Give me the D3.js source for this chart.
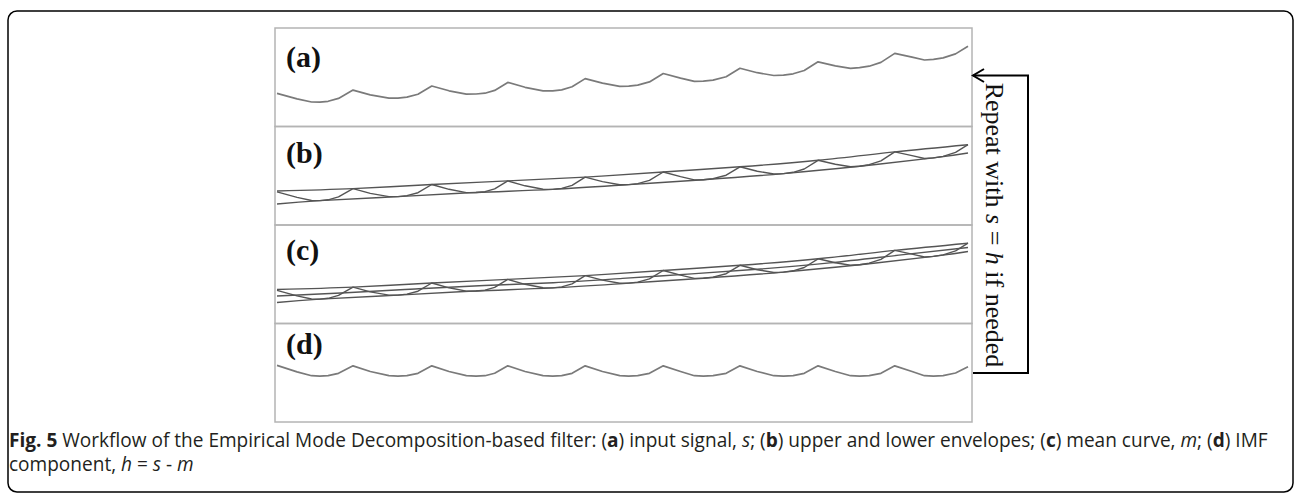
<!DOCTYPE html>
<html>
<head>
<meta charset="utf-8">
<script src="https://cdn.jsdelivr.net/npm/d3@7"></script>
<style>
  body { margin: 0; background: #fff; }
  svg { display: block; }
</style>
</head>
<body>
<script>
// panel ids, top to bottom
const panels = ['a', 'b', 'c', 'd'];

// input signal s: [time, amplitude]
const signalS = [
  [0.00, 33.1], [0.29, 27.6], [0.50, 24.5], [0.62, 24.4], [0.74, 25.2], [0.89, 28.1], [1.10, 36.4],
  [1.35, 31.6], [1.62, 28.4], [1.75, 28.4], [1.88, 29.4], [2.04, 32.3], [2.24, 40.5],
  [2.49, 35.7], [2.74, 32.4], [2.88, 32.5], [3.01, 33.3], [3.15, 36.1], [3.34, 44.1],
  [3.59, 39.2], [3.85, 35.7], [3.99, 35.6], [4.12, 36.6], [4.27, 39.7], [4.46, 47.9],
  [4.71, 43.4], [4.96, 40.2], [5.09, 40.4], [5.22, 41.4], [5.39, 44.6], [5.59, 53.0],
  [5.84, 48.4], [6.04, 45.1], [6.17, 45.3], [6.31, 46.4], [6.50, 49.8], [6.70, 58.2],
  [6.95, 53.8], [7.19, 51.0], [7.33, 51.4], [7.47, 52.7], [7.63, 56.0], [7.83, 64.7],
  [8.08, 60.7], [8.30, 58.2], [8.43, 58.8], [8.57, 60.3], [8.74, 64.1], [8.94, 73.1],
  [9.19, 69.4], [9.37, 66.5], [9.50, 67.1], [9.64, 68.6], [9.82, 72.6], [10.00, 80.3]
];

// upper envelope (through the maxima of s)
const upperEnv = [
  [0, 34.0], [1.10, 36.4], [2.24, 40.5], [3.34, 44.1], [4.46, 47.9],
  [5.59, 53.0], [6.70, 58.2], [7.83, 64.7], [8.94, 73.1], [10, 80.3]
];

// lower envelope (through the minima of s)
const lowerEnv = [
  [0, 21.0], [0.62, 24.4], [1.75, 28.4], [2.88, 32.5], [3.99, 35.6], [5.09, 40.4],
  [6.17, 45.3], [7.33, 51.4], [8.43, 58.8], [9.50, 67.1], [10, 72.0]
];

// mean curve m
const meanCurve = [
  [0, 27.5], [1, 30.8], [2, 34.5], [3, 38.0], [4, 40.8], [5, 45.1],
  [6, 49.6], [7, 54.5], [8, 60.6], [9, 68.4], [10, 76.0]
];

// IMF component h
const imfH = [
  [0.00, 5.6], [0.29, -0.9], [0.50, -4.7], [0.62, -5.15], [0.74, -4.7], [0.89, -2.3], [1.10, 5.15],
  [1.35, -0.5], [1.62, -4.7], [1.75, -5.15], [1.88, -4.7], [2.04, -2.3], [2.24, 5.15],
  [2.49, -0.5], [2.74, -4.7], [2.88, -5.15], [3.01, -4.7], [3.15, -2.3], [3.34, 5.15],
  [3.59, -0.5], [3.85, -4.7], [3.99, -5.15], [4.12, -4.7], [4.27, -2.3], [4.46, 5.15],
  [4.71, -0.5], [4.96, -4.7], [5.09, -5.15], [5.22, -4.7], [5.39, -2.3], [5.59, 5.15],
  [5.84, -0.5], [6.04, -4.7], [6.17, -5.15], [6.31, -4.7], [6.50, -2.3], [6.70, 5.15],
  [6.95, -0.5], [7.19, -4.7], [7.33, -5.15], [7.47, -4.7], [7.63, -2.3], [7.83, 5.15],
  [8.08, -0.5], [8.30, -4.7], [8.43, -5.15], [8.57, -4.7], [8.74, -2.3], [8.94, 5.15],
  [9.19, -0.5], [9.37, -4.7], [9.50, -5.15], [9.64, -4.7], [9.82, -2.0], [10.00, 4.2]
];

// what is drawn in each panel
const panelSeries = {
  a: [signalS],
  b: [signalS, upperEnv, lowerEnv],
  c: [signalS, upperEnv, lowerEnv, meanCurve],
  d: [imfH]
};

const sideNote = [['Repeat with ', null], ['s', 'i'], [' = ', null], ['h', 'i'], [' if needed', null]];

const caption1 = [
  ['Fig. 5', 'b'], [' Workflow of the Empirical Mode Decomposition-based filter: (', null],
  ['a', 'b'], [') input signal, ', null], ['s', 'i'], ['; (', null], ['b', 'b'],
  [') upper and lower envelopes; (', null], ['c', 'b'], [') mean curve, ', null],
  ['m', 'i'], ['; (', null], ['d', 'b'], [') IMF', null]
];
const caption2 = [['component, ', null], ['h', 'i'], [' = ', null], ['s', 'i'], [' - ', null], ['m', 'i']];

const width = 1296, height = 495;

const svg = d3.select('body').append('svg')
  .attr('width', width)
  .attr('height', height);

// outer frame
svg.append('rect')
  .attr('x', 8).attr('y', 11)
  .attr('width', 1285).attr('height', 481)
  .attr('rx', 9)
  .attr('fill', 'none')
  .attr('stroke', '#000')
  .attr('stroke-width', 1.5);

const band = d3.scaleBand().domain(panels).range([28, 422]);
const bw = band.bandwidth();
const x = d3.scaleLinear().domain([0, 10]).range([277, 968]);

const labelDy = { a: 39, b: 36, c: 35, d: 30 };

panels.forEach(function(p) {
  let top = band(p);
  let y = p === 'd'
    ? d3.scaleLinear().domain([-51, bw - 51]).range([top + bw, top])
    : d3.scaleLinear().domain([0, bw]).range([top + bw, top]);

  let g = svg.append('g').attr('class', 'panel_' + p);

  g.append('rect')
    .attr('x', 275).attr('y', top)
    .attr('width', 697).attr('height', bw)
    .attr('fill', 'none')
    .attr('stroke', '#b4b4b4')
    .attr('stroke-width', 1.5);

  let line = d3.line()
    .x(function(d) { return x(d[0]); })
    .y(function(d) { return y(d[1]); });

  panelSeries[p].forEach(function(series) {
    let smooth = series !== signalS && series !== imfH;
    g.append('path')
      .datum(series)
      .attr('d', line.curve(smooth ? d3.curveNatural : d3.curveLinear))
      .attr('fill', 'none')
      .attr('stroke', p === 'a' || p === 'd' ? '#7a7a7a' : '#555')
      .attr('stroke-width', p === 'a' || p === 'd' ? 1.7 : 1.4)
      .attr('stroke-linejoin', 'round');
  });

  g.append('text')
    .attr('x', 286)
    .attr('y', top + labelDy[p])
    .attr('font-family', 'Liberation Serif, Times New Roman, serif')
    .attr('font-weight', 'bold')
    .attr('font-size', 30)
    .attr('fill', '#111')
    .text('(' + p + ')');
});

// feedback arrow
const arrow = svg.append('g')
  .attr('fill', 'none')
  .attr('stroke', '#000')
  .attr('stroke-width', 2);
arrow.append('path').attr('d', 'M973,75.5H1028V373H973');
arrow.append('path').attr('d', 'M984,69L973,75.5L984,82');

const note = svg.append('text')
  .attr('transform', 'translate(986,225) rotate(90)')
  .attr('text-anchor', 'middle')
  .attr('font-family', 'Liberation Serif, Times New Roman, serif')
  .attr('font-size', 26)
  .attr('fill', '#111');
sideNote.forEach(function(s) {
  note.append('tspan').attr('font-style', s[1] === 'i' ? 'italic' : null).text(s[0]);
});

// caption
function addCaption(parts, yPos) {
  let t = svg.append('text')
    .attr('x', 9).attr('y', yPos)
    .attr('font-family', 'Open Sans, sans-serif')
    .attr('font-size', 16)
    .attr('fill', '#231f20');
  parts.forEach(function(s) {
    t.append('tspan')
      .attr('font-weight', s[1] === 'b' ? 'bold' : null)
      .attr('font-style', s[1] === 'i' ? 'italic' : null)
      .text(s[0]);
  });
  return t;
}
const cap1 = addCaption(caption1, 447);
const cap2 = addCaption(caption2, 471);
// fit line 1 to the width it has in the figure
const fs = 16 * 1259 / cap1.node().getComputedTextLength();
cap1.attr('font-size', fs);
cap2.attr('font-size', fs);
</script>
</body>
</html>
